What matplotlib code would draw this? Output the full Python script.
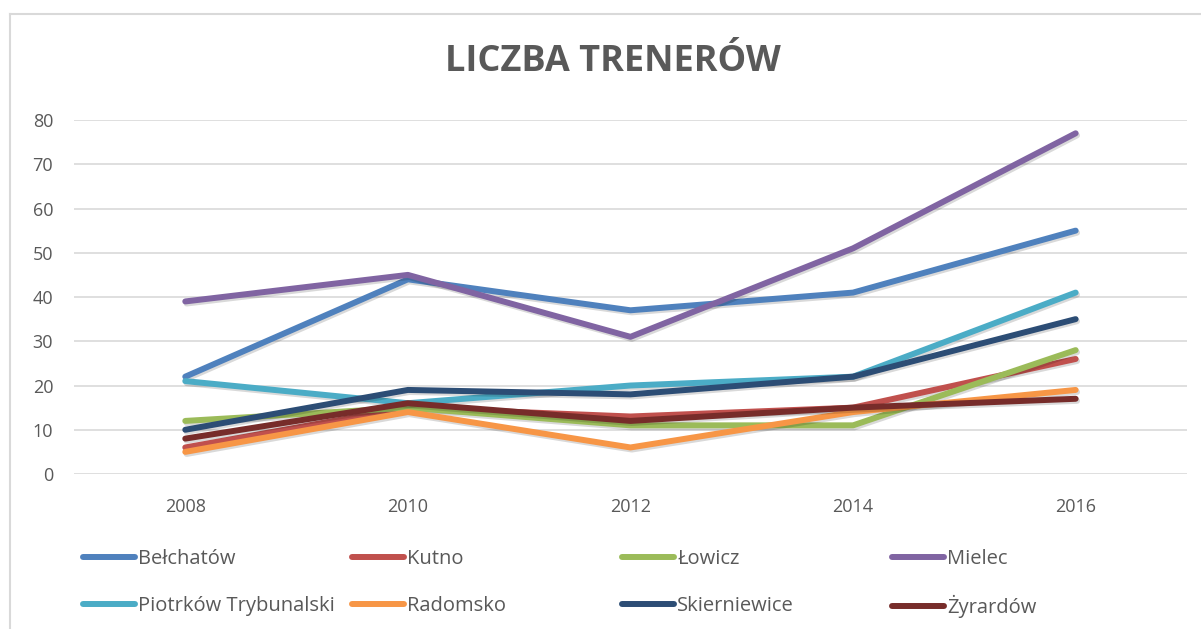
import matplotlib.pyplot as plt
import matplotlib.patheffects as pe
from matplotlib.lines import Line2D

# data
years = ["2008", "2010", "2012", "2014", "2016"]
belchatow = [22, 44, 37, 41, 55]
kutno = [6, 15, 13, 15, 26]
lowicz = [12, 15, 11, 11, 28]
mielec = [39, 45, 31, 51, 77]
piotrkow = [21, 16, 20, 22, 41]
radomsko = [5, 14, 6, 14, 19]
skierniewice = [10, 19, 18, 22, 35]
zyrardow = [8, 16, 12, 15, 17]

names = ["Bełchatów", "Kutno", "Łowicz", "Mielec",
         "Piotrków Trybunalski", "Radomsko", "Skierniewice", "Żyrardów"]
series = [belchatow, kutno, lowicz, mielec, piotrkow, radomsko, skierniewice, zyrardow]
colors = ["#4F81BD", "#C0504D", "#9BBB59", "#8064A2",
          "#4BACC6", "#F79646", "#2C4D75", "#772C2A"]

plt.rcParams['font.family'] = ['Open Sans', 'DejaVu Sans']
text_col = "#595959"

fig = plt.figure(figsize=(12.01, 6.29), dpi=100)
ax = fig.add_axes([0.0616, 0.2464, 0.9267, 0.5628])

x = list(range(len(years)))
shadow = [pe.SimpleLineShadow(offset=(1, -1.5), shadow_color='k', alpha=0.15),
          pe.Normal()]
lines = []
for vals, name, c in zip(series, names, colors):
    ln, = ax.plot(x, vals, color=c, lw=4.3, solid_capstyle='round',
                  solid_joinstyle='round', label=name, path_effects=shadow)
    lines.append(ln)

ax.set_xlim(-0.5, len(years) - 0.5)
ax.set_ylim(0, 80)
ax.set_yticks(range(0, 81, 10))
ax.set_xticks(x)
ax.set_xticklabels(years)
ax.grid(axis='y', color='#D9D9D9', lw=1.2)
ax.set_axisbelow(True)
for s in ax.spines.values():
    s.set_visible(False)
ax.tick_params(length=0, labelsize=13, labelcolor=text_col)
ax.tick_params(axis='y', pad=15)
ax.tick_params(axis='x', pad=17)

fig.text(613 / 1201, 0.902, "LICZBA TRENERÓW", ha='center', va='center',
         fontsize=26, fontweight='bold', color=text_col)

# legend: four equal-width columns, two rows, one entry per slot
col_x = [83, 352, 622, 892]
row_y = [559, 606]
for i, ln in enumerate(lines):
    cx = col_x[i % 4]
    cy = row_y[i // 4]
    leg = fig.legend([ln], [names[i]], loc='center left',
                     bbox_to_anchor=(cx / 1201, 1 - cy / 629),
                     frameon=False, fontsize=14.5, handlelength=2.6,
                     handletextpad=0.15, borderpad=0, borderaxespad=0)
    for t in leg.get_texts():
        t.set_color(text_col)
    for h in leg.legend_handles:
        h.set_path_effects([])
        h.set_linewidth(4.3)

# chart outline (top and left edges visible in the crop)
fig.add_artist(Line2D([10 / 1201, 10 / 1201], [0, 1 - 14 / 629],
                      transform=fig.transFigure, color='#D9D9D9', lw=1.5))
fig.add_artist(Line2D([10 / 1201, 1], [1 - 14 / 629, 1 - 14 / 629],
                      transform=fig.transFigure, color='#D9D9D9', lw=1.5))

fig.savefig("out.png", dpi=100)
